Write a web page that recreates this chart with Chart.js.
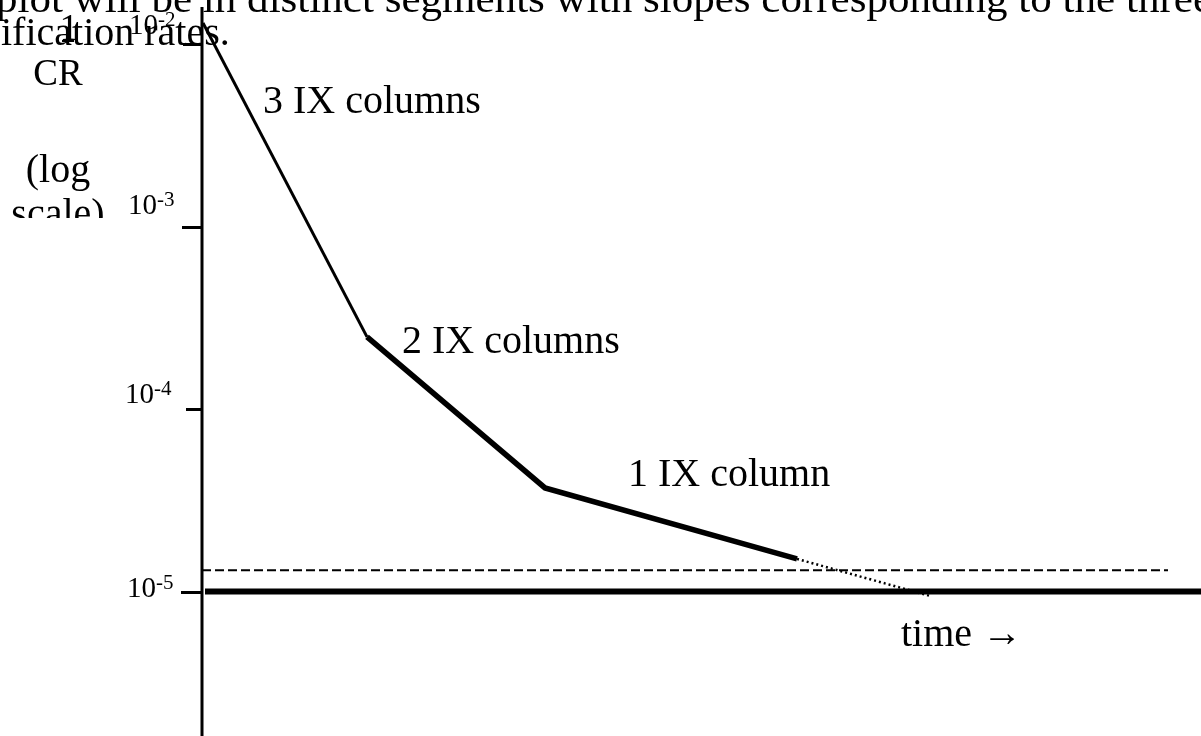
<!DOCTYPE html>
<html>
<head>
<meta charset="utf-8">
<script src="https://cdn.jsdelivr.net/npm/chart.js@4/dist/chart.umd.min.js"></script>
<style>
  html, body { margin: 0; padding: 0; background: #ffffff; overflow: hidden; }
  canvas { display: block; }
</style>
</head>
<body>
<canvas id="c" width="1201" height="736"></canvas>
<script>
// ---- data ----
const breakTime = [1, 165, 343, 595, 728];                 // time at segment ends
const breakCR   = [1.31e-2, 2.49e-4, 3.70e-5, 1.51e-5, 9.46e-6]; // 1/CR at those times
const dashedTime = [0, 966];
const dashedCR   = [1.31e-5, 1.31e-5];
const floorTime  = [3, 999];
const floorCR    = [1e-5, 1e-5];
const tickValues = [1e-2, 1e-3, 1e-4, 1e-5];
const tickBase   = ['10', '10', '10', '10'];
const tickExp    = ['-2', '-3', '-4', '-5'];
const segmentNames = ['3 IX columns', '2 IX columns', '1 IX column'];
const xAxisTitle = 'time \u2192';
const titleLines = ['plot will be in distinct segments with slopes corresponding to the three', 'ification rates.'];

function pts(xs, ys) { return xs.map((x, i) => ({ x: x, y: ys[i] })); }

const FONT = '"Liberation Serif", "DejaVu Serif", serif';

const decorPlugin = {
  id: 'decor',
  afterDraw(chart) {
    const ctx = chart.ctx;
    const ca = chart.chartArea;
    const ys = chart.scales.y;
    ctx.save();
    ctx.fillStyle = '#000';
    ctx.strokeStyle = '#000';
    // y axis line
    ctx.lineWidth = 3;
    ctx.beginPath();
    ctx.moveTo(ca.left, ca.top);
    ctx.lineTo(ca.left, ca.bottom);
    ctx.stroke();
    // ticks + labels
    const tickLen = [19, 20, 16, 21];
    const labDy = [-11, -14, -7, 4];
    const labRight = [158, 157, 154, 156];
    tickValues.forEach((v, i) => {
      const py = Math.round(ys.getPixelForValue(v)) + 0.5;
      ctx.lineWidth = 3;
      ctx.beginPath();
      ctx.moveTo(ca.left - tickLen[i], py);
      ctx.lineTo(ca.left, py);
      ctx.stroke();
      ctx.textBaseline = 'alphabetic';
      ctx.textAlign = 'right';
      ctx.font = '29px ' + FONT;
      ctx.fillText(tickBase[i], labRight[i], py + labDy[i]);
      ctx.textAlign = 'left';
      ctx.font = '21px ' + FONT;
      ctx.fillText(tickExp[i], labRight[i], py + labDy[i] - 8);
    });
    // segment labels
    ctx.font = '40px ' + FONT;
    ctx.textAlign = 'left';
    ctx.textBaseline = 'alphabetic';
    ctx.fillText(segmentNames[0], 263, 113);
    ctx.fillText(segmentNames[1], 402, 353);
    ctx.fillText(segmentNames[2], 628, 486);
    ctx.fillText(xAxisTitle, 901, 646);
    // cut-off caption text at top (stretched to span the width like the source)
    ctx.font = '41px ' + FONT;
    const w0 = ctx.measureText(titleLines[0]).width;
    ctx.save();
    ctx.translate(-4, 12);
    ctx.scale(1216 / w0, 1);
    ctx.fillText(titleLines[0], 0, 0);
    ctx.restore();
    ctx.font = '40px ' + FONT;
    ctx.fillText(titleLines[1], 1, 45);
    // y axis title: 1/CR (log scale)
    ctx.textAlign = 'center';
    ctx.font = '38px ' + FONT;
    ctx.fillText('1', 69, 40);
    ctx.lineWidth = 2;
    ctx.beginPath();
    ctx.moveTo(62, 41);
    ctx.lineTo(74, 41);
    ctx.stroke();
    ctx.font = '37px ' + FONT;
    ctx.fillText('CR', 58, 85);
    ctx.font = '40px ' + FONT;
    ctx.fillText('(log', 58, 182);
    ctx.save();
    ctx.beginPath();
    ctx.rect(0, 190, 140, 28);
    ctx.clip();
    ctx.fillText('scale)', 58, 226);
    ctx.restore();
    ctx.restore();
  }
};

new Chart(document.getElementById('c'), {
  type: 'line',
  data: {
    datasets: [
      { data: pts(breakTime.slice(0, 2), breakCR.slice(0, 2)), borderColor: '#000', borderWidth: 3, pointRadius: 0, borderCapStyle: 'butt' },
      { data: pts(breakTime.slice(1, 4), breakCR.slice(1, 4)), borderColor: '#000', borderWidth: 5.5, pointRadius: 0, borderCapStyle: 'butt', borderJoinStyle: 'miter' },
      { data: pts(breakTime.slice(3, 5), breakCR.slice(3, 5)), borderColor: '#000', borderWidth: 2.5, pointRadius: 0, borderDash: [2, 3], borderCapStyle: 'butt' },
      { data: pts(dashedTime, dashedCR), borderColor: '#000', borderWidth: 2, pointRadius: 0, borderDash: [9, 4], borderCapStyle: 'butt' },
      { data: pts(floorTime, floorCR), borderColor: '#000', borderWidth: 6, pointRadius: 0, borderCapStyle: 'butt' }
    ]
  },
  options: {
    responsive: false,
    animation: false,
    events: [],
    layout: { padding: { left: 202, top: 7, right: 0, bottom: 0 } },
    plugins: { legend: { display: false }, tooltip: { enabled: false }, title: { display: false } },
    scales: {
      x: { type: 'linear', min: 0, max: 999, display: false },
      y: { type: 'logarithmic', min: Math.pow(10, -5.792), max: Math.pow(10, -1.795), display: false }
    }
  },
  plugins: [decorPlugin]
});
</script>
</body>
</html>
